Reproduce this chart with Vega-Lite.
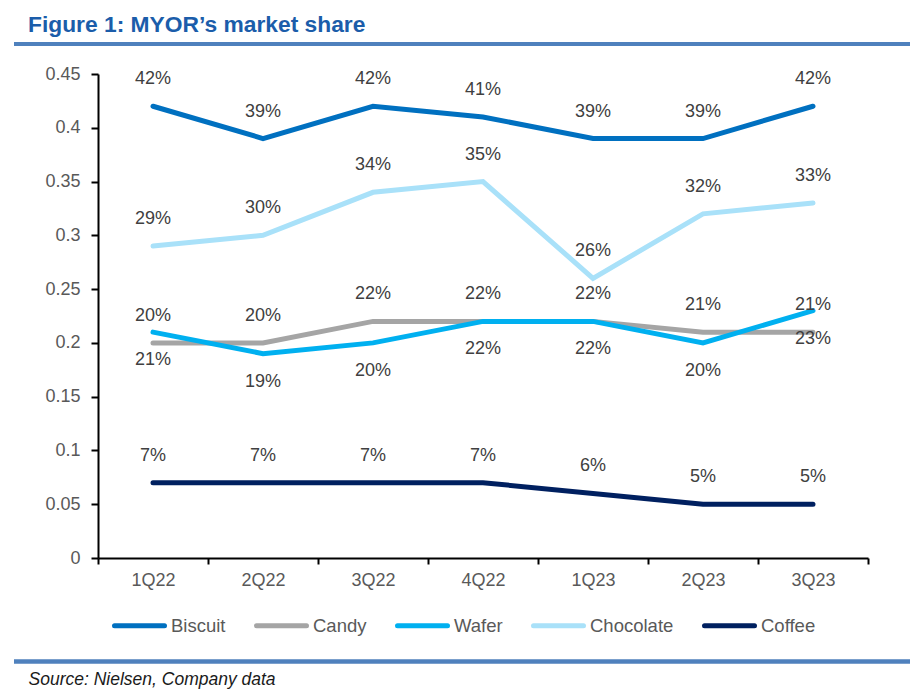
{
  "$schema": "https://vega.github.io/schema/vega-lite/v6.json",
  "autosize": {"type": "none"},
  "width": 770,
  "height": 484,
  "padding": {"left": 98, "top": 74, "right": 56, "bottom": 138},
  "background": "white",
  "title": {
    "text": "Figure 1: MYOR’s market share",
    "anchor": "start",
    "frame": "group",
    "dx": -70,
    "font": "Liberation Sans",
    "fontSize": 22.8,
    "fontWeight": "bold",
    "color": "#1B5DAA",
    "offset": -13,
    "baseline": "alphabetic"
  },
  "config": {"view": {"stroke": null}, "font": "Liberation Sans"},
  "data": {
    "values": [
      {"quarter": "1Q22", "category": "Biscuit", "share": 0.42},
      {"quarter": "2Q22", "category": "Biscuit", "share": 0.39},
      {"quarter": "3Q22", "category": "Biscuit", "share": 0.42},
      {"quarter": "4Q22", "category": "Biscuit", "share": 0.41},
      {"quarter": "1Q23", "category": "Biscuit", "share": 0.39},
      {"quarter": "2Q23", "category": "Biscuit", "share": 0.39},
      {"quarter": "3Q23", "category": "Biscuit", "share": 0.42},
      {"quarter": "1Q22", "category": "Chocolate", "share": 0.29},
      {"quarter": "2Q22", "category": "Chocolate", "share": 0.30},
      {"quarter": "3Q22", "category": "Chocolate", "share": 0.34},
      {"quarter": "4Q22", "category": "Chocolate", "share": 0.35},
      {"quarter": "1Q23", "category": "Chocolate", "share": 0.26},
      {"quarter": "2Q23", "category": "Chocolate", "share": 0.32},
      {"quarter": "3Q23", "category": "Chocolate", "share": 0.33},
      {"quarter": "1Q22", "category": "Candy", "share": 0.20},
      {"quarter": "2Q22", "category": "Candy", "share": 0.20},
      {"quarter": "3Q22", "category": "Candy", "share": 0.22},
      {"quarter": "4Q22", "category": "Candy", "share": 0.22},
      {"quarter": "1Q23", "category": "Candy", "share": 0.22},
      {"quarter": "2Q23", "category": "Candy", "share": 0.21},
      {"quarter": "3Q23", "category": "Candy", "share": 0.21},
      {"quarter": "1Q22", "category": "Wafer", "share": 0.21},
      {"quarter": "2Q22", "category": "Wafer", "share": 0.19},
      {"quarter": "3Q22", "category": "Wafer", "share": 0.20},
      {"quarter": "4Q22", "category": "Wafer", "share": 0.22},
      {"quarter": "1Q23", "category": "Wafer", "share": 0.22},
      {"quarter": "2Q23", "category": "Wafer", "share": 0.20},
      {"quarter": "3Q23", "category": "Wafer", "share": 0.23},
      {"quarter": "1Q22", "category": "Coffee", "share": 0.07},
      {"quarter": "2Q22", "category": "Coffee", "share": 0.07},
      {"quarter": "3Q22", "category": "Coffee", "share": 0.07},
      {"quarter": "4Q22", "category": "Coffee", "share": 0.07},
      {"quarter": "1Q23", "category": "Coffee", "share": 0.06},
      {"quarter": "2Q23", "category": "Coffee", "share": 0.05},
      {"quarter": "3Q23", "category": "Coffee", "share": 0.05}
    ]
  },
  "layer": [
    {
      "data": {"values": [{}]},
      "mark": {"type": "rule", "color": "#4F81BD", "strokeWidth": 4},
      "encoding": {"x": {"value": -84}, "x2": {"value": 812}, "y": {"value": -30}}
    },
    {
      "data": {"values": [{}]},
      "mark": {"type": "rule", "color": "#4F81BD", "strokeWidth": 4.5},
      "encoding": {"x": {"value": -84}, "x2": {"value": 812}, "y": {"value": 587.5}}
    },
    {
      "mark": {"type": "line", "strokeWidth": 5, "strokeCap": "round"},
      "encoding": {
        "x": {
          "field": "quarter",
          "type": "ordinal",
          "sort": ["1Q22", "2Q22", "3Q22", "4Q22", "1Q23", "2Q23", "3Q23"],
          "scale": {"type": "band", "paddingInner": 0, "paddingOuter": 0},
          "axis": {
            "title": "Source: Nielsen, Company data",
            "labelAngle": 0,
            "tickBand": "extent",
            "domainColor": "#000000",
            "domainWidth": 2,
            "tickColor": "#000000",
            "tickWidth": 2,
            "tickSize": 6,
            "labelPadding": 7,
            "labelFont": "Liberation Sans",
            "labelFontSize": 18,
            "labelColor": "#595959",
            "titleAnchor": "start",
            "titleAlign": "left",
            "titleX": -70,
            "titleY": 126,
            "titleBaseline": "alphabetic",
            "titleFont": "Liberation Sans",
            "titleFontStyle": "italic",
            "titleFontWeight": "normal",
            "titleFontSize": 17.5,
            "titleColor": "#1a1a1a"
          }
        },
        "y": {
          "field": "share",
          "type": "quantitative",
          "scale": {"domain": [0, 0.45], "nice": false},
          "axis": {
            "title": null,
            "values": [0, 0.05, 0.1, 0.15, 0.2, 0.25, 0.3, 0.35, 0.4, 0.45],
            "format": ".2~f",
            "grid": false,
            "domainColor": "#000000",
            "domainWidth": 2,
            "tickColor": "#000000",
            "tickWidth": 2,
            "tickSize": 7,
            "labelPadding": 11,
            "labelFont": "Liberation Sans",
            "labelFontSize": 18,
            "labelColor": "#595959"
          }
        },
        "color": {
          "field": "category",
          "type": "nominal",
          "scale": {
            "domain": ["Biscuit", "Candy", "Wafer", "Chocolate", "Coffee"],
            "range": ["#0070C0", "#A5A5A5", "#00B0F0", "#A9E1F9", "#002060"]
          },
          "legend": {
            "orient": "none",
            "legendX": 14,
            "legendY": 524,
            "direction": "horizontal",
            "title": null,
            "symbolType": "stroke",
            "symbolSize": 2500,
            "symbolStrokeWidth": 5,
            "labelFont": "Liberation Sans",
            "labelFontSize": 18.5,
            "labelColor": "#595959",
            "labelOffset": 4,
            "columnPadding": 20,
            "encode": {"symbols": {"update": {"strokeCap": {"value": "round"}}}}
          }
        }
      }
    },
    {
      "transform": [{"filter": "datum.category !== 'Wafer'"}],
      "mark": {"type": "text", "dy": -27, "baseline": "middle", "font": "Liberation Sans", "fontSize": 18, "color": "#404040"},
      "encoding": {
        "x": {"field": "quarter", "type": "ordinal", "sort": ["1Q22", "2Q22", "3Q22", "4Q22", "1Q23", "2Q23", "3Q23"]},
        "y": {"field": "share", "type": "quantitative"},
        "text": {"field": "share", "type": "quantitative", "format": ".0%"}
      }
    },
    {
      "transform": [{"filter": "datum.category === 'Wafer'"}],
      "mark": {"type": "text", "dy": 28, "baseline": "middle", "font": "Liberation Sans", "fontSize": 18, "color": "#404040"},
      "encoding": {
        "x": {"field": "quarter", "type": "ordinal", "sort": ["1Q22", "2Q22", "3Q22", "4Q22", "1Q23", "2Q23", "3Q23"]},
        "y": {"field": "share", "type": "quantitative"},
        "text": {"field": "share", "type": "quantitative", "format": ".0%"}
      }
    }
  ]
}
